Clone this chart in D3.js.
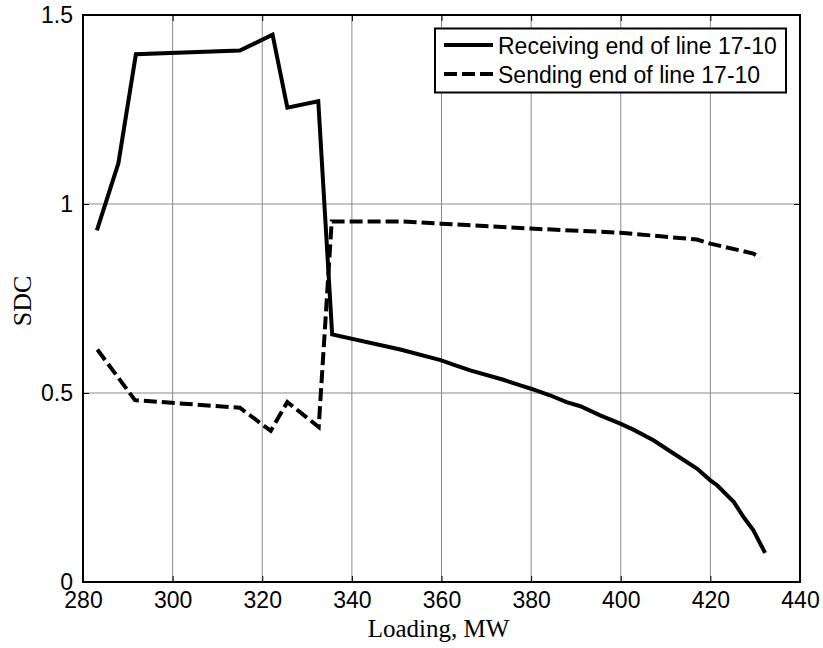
<!DOCTYPE html>
<html><head><meta charset="utf-8">
<script src="https://cdn.jsdelivr.net/npm/d3@7"></script>
<style>body{margin:0;background:#fff}</style>
</head><body>
<svg id="c" width="823" height="648"></svg>
<script>
const xTicks = [280,300,320,340,360,380,400,420,440];
const yTicks = [0,0.5,1,1.5];
const yTickLabels = ["0","0.5","1","1.5"];
const seriesNames = ["Receiving end of line 17-10","Sending end of line 17-10"];

const receivingX = [283.1,287.9,291.8,315.0,322.3,325.6,332.5,335.6,350.8,359.8,362.0,366.4,373.8,377.6,379.8,384.2,387.9,391.0,395.4,399.9,402.8,407.3,411.8,417.0,420.0,421.5,425.2,427.4,429.6,432.2];
const receivingY = [0.930,1.108,1.396,1.406,1.448,1.255,1.272,0.655,0.615,0.587,0.578,0.560,0.535,0.520,0.512,0.494,0.476,0.465,0.441,0.419,0.403,0.375,0.340,0.300,0.269,0.256,0.212,0.172,0.137,0.077];

const sendingX = [283.2,291.6,315.0,321.9,325.6,332.6,335.5,350.8,359.8,379.8,399.9,417.0,420.0,429.6,431.1];
const sendingY = [0.615,0.481,0.461,0.400,0.476,0.410,0.954,0.954,0.948,0.935,0.924,0.906,0.895,0.869,0.858];

const L=83, R=800, T=15, B=582;
const svg = d3.select("#c");
const x = d3.scaleLinear().domain([280,440]).range([L,R]);
const y = d3.scaleLinear().domain([0,1.5]).range([B,T]);

// grid
const g = svg.append("g");
g.selectAll("line.vx").data(xTicks.slice(1,-1)).join("line")
  .attr("x1",d=>x(d)).attr("x2",d=>x(d)).attr("y1",T).attr("y2",B)
  .attr("stroke","#8a8a8a").attr("stroke-width",1);
g.selectAll("line.hy").data(yTicks.slice(1,-1)).join("line")
  .attr("y1",d=>y(d)).attr("y2",d=>y(d)).attr("x1",L).attr("x2",R)
  .attr("stroke","#8a8a8a").attr("stroke-width",1);

// inward ticks via axes
const tl = 6;
svg.append("g").attr("transform",`translate(0,${B})`)
  .call(d3.axisBottom(x).tickValues(xTicks).tickSize(-tl).tickPadding(10))
  .call(a=>{a.select(".domain").remove();
    a.selectAll("line").attr("stroke","#000").attr("stroke-width",1);
    a.selectAll("text").attr("font-family","Liberation Sans, Arial, sans-serif").attr("font-size",23).attr("fill","#000");});
svg.append("g").attr("transform",`translate(0,${T})`)
  .call(d3.axisTop(x).tickValues(xTicks).tickSize(-tl).tickFormat(""))
  .call(a=>{a.select(".domain").remove(); a.selectAll("line").attr("stroke","#000");});
svg.append("g").attr("transform",`translate(${L},0)`)
  .call(d3.axisLeft(y).tickValues(yTicks).tickSize(-tl).tickPadding(10).tickFormat((d,i)=>yTickLabels[i]))
  .call(a=>{a.select(".domain").remove();
    a.selectAll("line").attr("stroke","#000");
    a.selectAll("text").attr("font-family","Liberation Sans, Arial, sans-serif").attr("font-size",23).attr("fill","#000");});
svg.append("g").attr("transform",`translate(${R},0)`)
  .call(d3.axisRight(y).tickValues(yTicks).tickSize(-tl).tickFormat(""))
  .call(a=>{a.select(".domain").remove(); a.selectAll("line").attr("stroke","#000");});

// box
svg.append("rect").attr("x",L).attr("y",T).attr("width",R-L).attr("height",B-T)
  .attr("fill","none").attr("stroke","#000").attr("stroke-width",2);

// lines
const line = d3.line().x(d=>x(d[0])).y(d=>y(d[1]));
const recv = receivingX.map((v,i)=>[v,receivingY[i]]);
const send = sendingX.map((v,i)=>[v,sendingY[i]]);
svg.append("path").datum(send).attr("d",line).attr("fill","none")
  .attr("stroke","#000").attr("stroke-width",4).attr("stroke-dasharray","13,5").attr("stroke-linejoin","miter");
svg.append("path").datum(recv).attr("d",line).attr("fill","none")
  .attr("stroke","#000").attr("stroke-width",4).attr("stroke-linejoin","miter");

// legend
const lg = svg.append("g");
lg.append("rect").attr("x",435).attr("y",28.5).attr("width",351).attr("height",64)
  .attr("fill","#fff").attr("stroke","#000").attr("stroke-width",2);
const rows=[{y:45,dash:null},{y:74,dash:"13,5"}];
rows.forEach((r,i)=>{
  lg.append("line").attr("x1",444).attr("x2",493).attr("y1",r.y).attr("y2",r.y)
    .attr("stroke","#000").attr("stroke-width",4).attr("stroke-dasharray",r.dash);
  lg.append("text").attr("x",498).attr("y",r.y+9).text(seriesNames[i])
    .attr("font-family","Liberation Sans, Arial, sans-serif").attr("font-size",23).attr("fill","#000");
});

// axis labels
svg.append("text").attr("x",(L+R)/2-3).attr("y",637).attr("text-anchor","middle")
  .attr("font-family","Liberation Serif, Times New Roman, serif").attr("font-size",25).text("Loading, MW");
svg.append("text").attr("transform",`translate(31,301) rotate(-90)`).attr("text-anchor","middle")
  .attr("font-family","Liberation Serif, Times New Roman, serif").attr("font-size",26).text("SDC");
</script>
</body></html>
